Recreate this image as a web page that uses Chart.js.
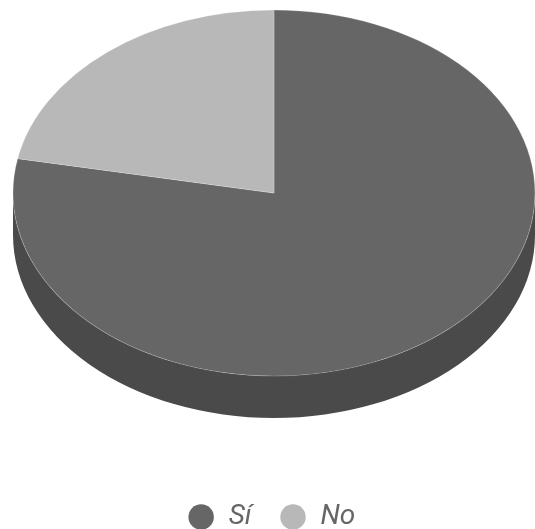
<!DOCTYPE html>
<html>
<head>
<meta charset="utf-8">
<script src="https://cdn.jsdelivr.net/npm/chart.js@4/dist/chart.umd.min.js"></script>
<style>
html,body{margin:0;padding:0;background:#fff;}
#wrap{width:535px;height:529px;}
</style>
</head>
<body>
<div id="wrap"><canvas id="c" width="535" height="529"></canvas></div>
<script>
const categories = ['Sí', 'No'];
const values = [78, 22];
const topColors = ['#666666', '#b8b8b8'];
const sideColors = ['#4a4a4a', '#8a8a8a'];

// 3D look: target ellipse geometry on the canvas
const PIE = {cx: 274, cy: 193, rx: 261, ry: 183, depth: 42};

const pie3d = {
  id: 'pie3d',
  beforeDatasetsDraw(chart) {
    const meta = chart.getDatasetMeta(0);
    const a0 = meta.data[0];
    if (!a0) return;
    const r = a0.outerRadius, cx = a0.x, cy = a0.y;
    const ctx = chart.ctx;
    ctx.save();
    ctx.translate(PIE.cx, PIE.cy);
    ctx.scale(PIE.rx / r, PIE.ry / r);
    ctx.translate(-cx, -cy);
    const dy = PIE.depth * r / PIE.ry;
    const TAU = Math.PI * 2;
    meta.data.forEach((el, i) => {
      // front-facing part of the slice wall: angles within [0, PI] (mod 2PI)
      for (let k = -1; k <= 1; k++) {
        const s = Math.max(el.startAngle + k * TAU, 0);
        const e = Math.min(el.endAngle + k * TAU, Math.PI);
        if (e <= s) continue;
        ctx.beginPath();
        ctx.arc(el.x, el.y, el.outerRadius, s, e);
        ctx.arc(el.x, el.y + dy, el.outerRadius, e, s, true);
        ctx.closePath();
        ctx.fillStyle = sideColors[i];
        ctx.fill();
      }
    });
  },
  afterDatasetsDraw(chart) {
    chart.ctx.restore();
  }
};

new Chart(document.getElementById('c'), {
  type: 'pie',
  data: {
    labels: categories,
    datasets: [{
      data: values,
      backgroundColor: topColors,
      borderColor: 'rgba(255,255,255,0.22)',
      borderWidth: 1,
      clip: false
    }]
  },
  options: {
    responsive: false,
    animation: false,
    events: [],
    layout: {padding: {left: 8, right: 0, top: 0, bottom: -12}},
    plugins: {
      tooltip: {enabled: false},
      legend: {
        position: 'bottom',
        labels: {
          usePointStyle: true,
          boxWidth: 27,
          boxHeight: 18,
          padding: 28,
          color: '#666666',
          font: {family: 'Roboto', style: 'italic', size: 28},
          generateLabels(chart) {
            return categories.map((c, i) => ({
              text: c,
              fillStyle: topColors[i],
              strokeStyle: topColors[i],
              lineWidth: 0,
              pointStyle: 'circle',
              fontColor: '#666666',
              hidden: false,
              index: i
            }));
          }
        }
      }
    }
  },
  plugins: [pie3d]
});
</script>
</body>
</html>
